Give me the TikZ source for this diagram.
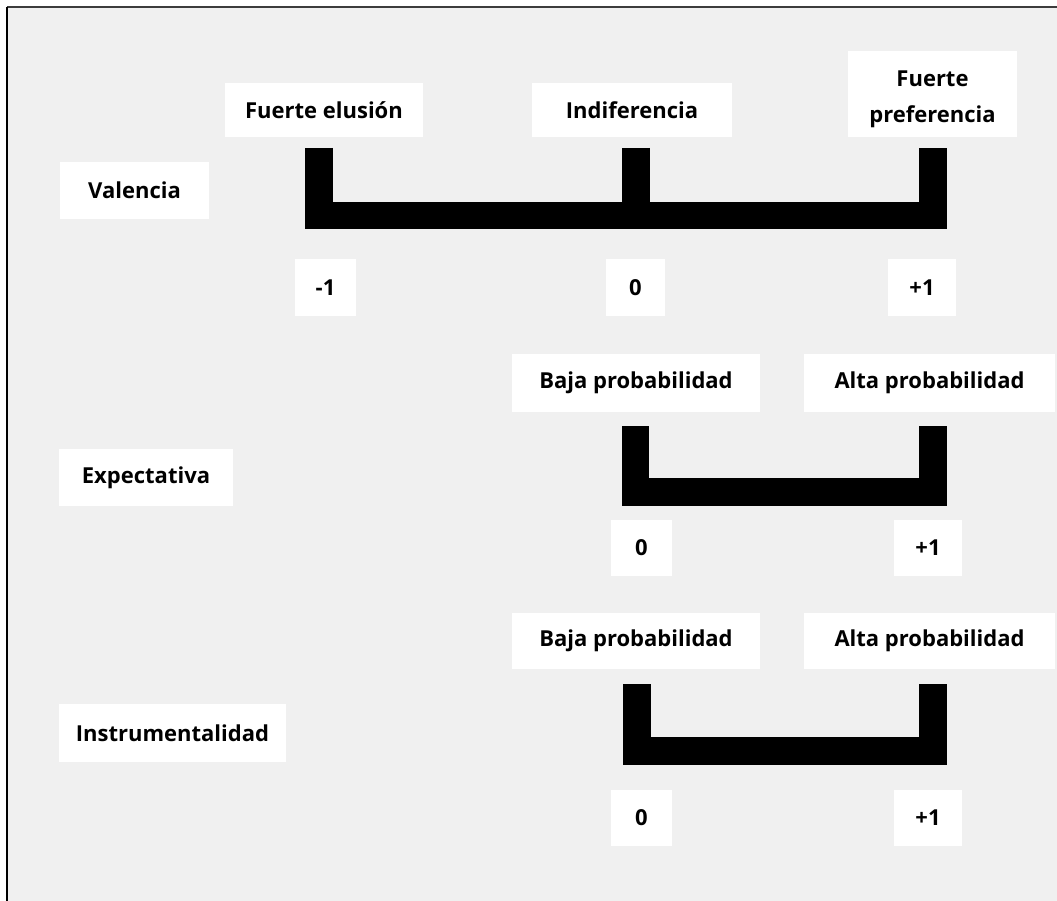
\documentclass[tikz,border=0pt]{standalone}
\usepackage{fontspec}
\setmainfont{Open Sans}
\definecolor{panel}{HTML}{F0F0F0}
\definecolor{frameline}{HTML}{3C3C3C}
\tikzset{
  lbl/.style={fill=white, inner sep=0pt, align=center,
    font=\fontsize{22}{26}\selectfont\bfseries},
  bar/.style={line width=27.5pt, line join=miter, line cap=butt, black},
}
\begin{document}
\begin{tikzpicture}[x=1pt, y=-1pt]
  \useasboundingbox (0,0) rectangle (1057,901);
  % page and panel
  \fill[white] (0,0) rectangle (1057,901);
  \fill[panel] (7,7) rectangle (1057,901);
  \draw[frameline, line width=1.6pt] (7,7) -- (1057,7);
  \draw[black, line width=1.8pt] (7,7) -- (7,901);

  % ---- Valencia ----
  \node[lbl, minimum width=149pt, minimum height=57pt] (val) at (134.5,190.5) {Valencia};
  \node[lbl, minimum width=198pt, minimum height=54pt] (vFE) at (324,110) {Fuerte elusión};
  \node[lbl, minimum width=200pt, minimum height=54pt] (vIN) at (632,110) {Indiferencia};
  \node[lbl, minimum width=169pt, minimum height=86pt] (vFP) at (932.5,94) {};
  \node[lbl, fill=none] (vFPtext) at ([yshift=-5pt]vFP.center)
    {Fuerte\\[10pt]preferencia};
  \node[lbl, minimum width=61pt, minimum height=57pt] (vm1) at (325.5,287.5) {-1};
  \node[lbl, minimum width=59pt, minimum height=57pt] (v0) at (635.5,287.5) {0};
  \node[lbl, minimum width=68pt, minimum height=57pt] (vp1) at (922,287.5) {+1};

  \coordinate (vL) at (319,148);
  \coordinate (vLb) at (319,215.5);
  \coordinate (vM) at (636,148);
  \coordinate (vMb) at (636,215.5);
  \coordinate (vR) at (933,148);
  \coordinate (vRb) at (933,215.5);
  \draw[bar] (vL) -- (vLb) -- (vRb) -- (vR);
  \draw[bar] (vM) -- (vMb);

  % ---- Expectativa ----
  \node[lbl, minimum width=174pt, minimum height=57pt] (exp) at (146,477.5) {Expectativa};
  \node[lbl, minimum width=248pt, minimum height=58pt] (eB) at (636,383) {Baja probabilidad};
  \node[lbl, minimum width=251pt, minimum height=58pt] (eA) at (929.5,383) {Alta probabilidad};
  \node[lbl, minimum width=61pt, minimum height=56pt] (e0) at (641.5,548) {0};
  \node[lbl, minimum width=68pt, minimum height=56pt] (ep1) at (928,548) {+1};

  \coordinate (eL) at (635.5,426);
  \coordinate (eLb) at (635.5,492);
  \coordinate (eR) at (933,426);
  \coordinate (eRb) at (933,492);
  \draw[bar] (eL) -- (eLb) -- (eRb) -- (eR);

  % ---- Instrumentalidad ----
  \node[lbl, minimum width=227pt, minimum height=58pt] (ins) at (172.5,733) {Instrumentalidad};
  \node[lbl, minimum width=248pt, minimum height=56pt] (iB) at (636,641) {Baja probabilidad};
  \node[lbl, minimum width=251pt, minimum height=56pt] (iA) at (929.5,641) {Alta probabilidad};
  \node[lbl, minimum width=61pt, minimum height=56pt] (i0) at (641.5,818) {0};
  \node[lbl, minimum width=68pt, minimum height=56pt] (ip1) at (928,818) {+1};

  \coordinate (iL) at (637,684);
  \coordinate (iLb) at (637,751);
  \coordinate (iR) at (933,684);
  \coordinate (iRb) at (933,751);
  \draw[bar] (iL) -- (iLb) -- (iRb) -- (iR);
\end{tikzpicture}
\end{document}
